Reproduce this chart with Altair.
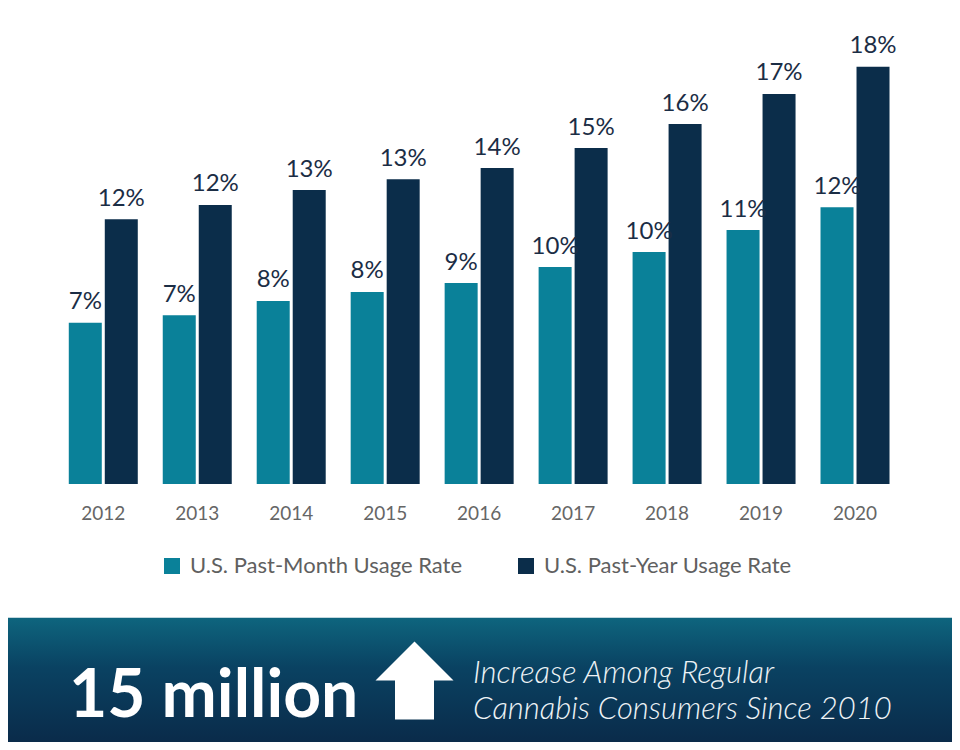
import altair as alt
import pandas as pd

# ---- data ----
years = ["2012", "2013", "2014", "2015", "2016", "2017", "2018", "2019", "2020"]
past_month = [7.12, 7.45, 8.08, 8.48, 8.87, 9.58, 10.24, 11.21, 12.22]
past_year = [11.69, 12.32, 12.98, 13.45, 13.95, 14.83, 15.89, 17.22, 18.42]
month_labels = ["7%", "7%", "8%", "8%", "9%", "10%", "10%", "11%", "12%"]
year_labels = ["12%", "12%", "13%", "13%", "14%", "15%", "16%", "17%", "18%"]
series_names = ["U.S. Past-Month Usage Rate", "U.S. Past-Year Usage Rate"]
series_colors = ["#0a8199", "#0b2d4a"]
banner_big = "15 million"
banner_line1 = "Increase Among Regular"
banner_line2 = "Cannabis Consumers Since 2010"

df = pd.DataFrame({
    "year": years * 2,
    "value": past_month + past_year,
    "label": month_labels + year_labels,
    "series": [series_names[0]] * len(years) + [series_names[1]] * len(years),
})
one = pd.DataFrame({"k": [0]})

W, H = 944, 734
BASE = 476
PX_PER_PCT = 22.65
FONT = "Lato"

x_enc = alt.X("year:N", sort=years,
              scale=alt.Scale(range=[48.3, 894], paddingInner=0, paddingOuter=0),
              axis=None)
y_enc = alt.Y("value:Q", scale=alt.Scale(domain=[0, BASE / PX_PER_PCT], range=[BASE, 0]),
              axis=None)
color_enc = alt.Color(
    "series:N",
    scale=alt.Scale(domain=series_names, range=series_colors),
    legend=alt.Legend(
        title=None, orient="none", legendX=153, legendY=547, direction="horizontal",
        symbolType="square", symbolSize=256, symbolStrokeWidth=0, symbolOpacity=1,
        labelFont=FONT, labelFontSize=22, labelFontWeight=400, labelColor="#606060",
        labelOffset=7, columnPadding=52, labelLimit=500,
    ),
)

base = alt.Chart(df)
month = base.transform_filter(alt.datum.series == series_names[0])
yearly = base.transform_filter(alt.datum.series == series_names[1])

bars_m = month.mark_bar(width=33, xOffset=-18).encode(x=x_enc, y=y_enc, color=color_enc)
bars_y = yearly.mark_bar(width=33, xOffset=18).encode(x=x_enc, y=y_enc, color=color_enc)

lab_style = dict(font=FONT, fontSize=24, fontWeight=400, baseline="alphabetic", dy=-13.5,
                 color="#1b2d45")
labs_m = month.mark_text(xOffset=-18, **lab_style).encode(x=x_enc, y=y_enc, text="label:N")
labs_y = yearly.mark_text(xOffset=18, **lab_style).encode(x=x_enc, y=y_enc, text="label:N")

year_ticks = month.mark_text(font=FONT, fontSize=19, fontWeight=400, color="#666666",
                             baseline="alphabetic").encode(
    x=x_enc, y=alt.value(512), text="year:N")

grad = alt.Gradient(
    gradient="linear", x1=0, x2=0, y1=0, y2=1,
    stops=[alt.GradientStop(color="#0e657e", offset=0),
           alt.GradientStop(color="#0a4262", offset=0.4),
           alt.GradientStop(color="#0a2b4a", offset=1)],
)
banner = alt.Chart(one).mark_rect(color=grad).encode(
    x=alt.value(0), x2=alt.value(W), y=alt.value(609.7), y2=alt.value(H))

arrow_path = "M0,-1 L1,0 L0.5,0 L0.5,1 L-0.5,1 L-0.5,0 L-1,0 Z"
arrow = alt.Chart(one).mark_point(shape=arrow_path, size=6084, filled=True, color="white",
                                  opacity=1, strokeWidth=0).encode(
    x=alt.value(406.5), y=alt.value(672.5))

big = alt.Chart(one).mark_text(font=FONT, fontSize=66, fontWeight="bold", color="white",
                               align="left", baseline="alphabetic").encode(
    x=alt.value(61), y=alt.value(708.7), text=alt.value(banner_big))

side_style = dict(font=FONT, fontSize=31, fontWeight=300, fontStyle="italic",
                  color="#eef3f6", align="left", baseline="alphabetic")
side1 = alt.Chart(one).mark_text(**side_style).encode(
    x=alt.value(465), y=alt.value(675), text=alt.value(banner_line1))
side2 = alt.Chart(one).mark_text(**side_style).encode(
    x=alt.value(465), y=alt.value(711), text=alt.value(banner_line2))

chart = alt.layer(banner, bars_m, bars_y, labs_m, labs_y, year_ticks, arrow, big,
                  side1, side2).properties(
    width=W, height=H, padding=0, autosize=alt.AutoSizeParams(type="none"),
    background="white",
).configure_view(strokeWidth=0)

chart.save("out.html", embed_options={"renderer": "svg", "actions": False})
